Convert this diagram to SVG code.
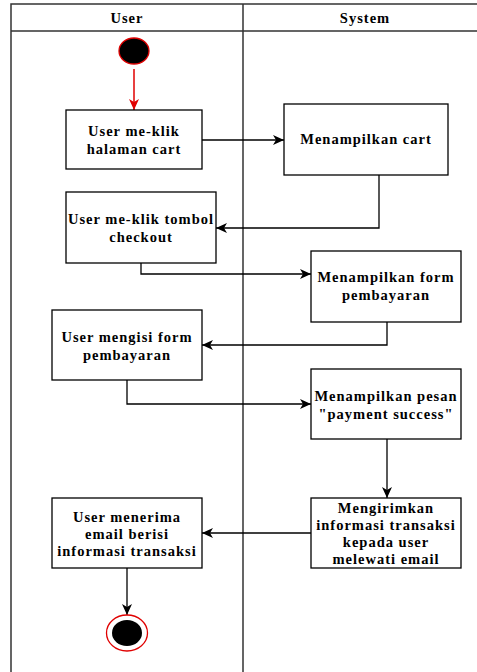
<svg xmlns="http://www.w3.org/2000/svg" width="477" height="672" viewBox="0 0 477 672">
<style>
.lane{fill:none;stroke:#333;stroke-width:1.5}
.box{fill:#fff;stroke:#000;stroke-width:1.3}
.t{font-family:"Liberation Serif","Times New Roman",serif;font-weight:bold;font-size:14.5px;letter-spacing:1px;text-anchor:middle;fill:#000}
.c{fill:none;stroke:#000;stroke-width:1.3}
</style>
<defs>
<marker id="ah" markerWidth="12" markerHeight="10" refX="11" refY="5" orient="auto" markerUnits="userSpaceOnUse">
<path d="M0,0 L11,5 L0,10 L3,5 Z" fill="#000"/>
</marker>
<marker id="ahr" markerWidth="12" markerHeight="10" refX="11" refY="5" orient="auto" markerUnits="userSpaceOnUse">
<path d="M0,0 L11,5 L0,10 L3,5 Z" fill="#e00000"/>
</marker>
</defs>
<g id="lanes">
<path class="lane" d="M11,672 V4 H477 M11,31 H477 M243,4 V672"/>
<text class="t" x="127" y="23">User</text>
<text class="t" x="365" y="23">System</text>
</g>
<g id="connectors">
<path d="M134,69 V110" fill="none" stroke="#e00000" stroke-width="1.5" marker-end="url(#ahr)"/>
<path class="c" d="M202,140 H284" marker-end="url(#ah)"/>
<path class="c" d="M379,175 V228 H216" marker-end="url(#ah)"/>
<path class="c" d="M141,263 V274 H311" marker-end="url(#ah)"/>
<path class="c" d="M387,322 V345 H202" marker-end="url(#ah)"/>
<path class="c" d="M127,380 V404 H311" marker-end="url(#ah)"/>
<path class="c" d="M387,439 V498" marker-end="url(#ah)"/>
<path class="c" d="M311,533 H202" marker-end="url(#ah)"/>
<path class="c" d="M127,568 V615" marker-end="url(#ah)"/>
</g>
<g id="start">
<ellipse cx="134" cy="51" rx="15" ry="13" fill="#000" stroke="#e00000" stroke-width="1.3"/>
</g>
<g id="n1">
<rect class="box" x="66" y="110" width="136" height="59"/>
<text class="t" x="134" y="136">User me-klik</text>
<text class="t" x="134" y="154">halaman cart</text>
</g>
<g id="n2">
<rect class="box" x="284" y="104" width="164" height="71"/>
<text class="t" x="366" y="144">Menampilkan cart</text>
</g>
<g id="n3">
<rect class="box" x="66" y="192" width="150" height="71"/>
<text class="t" x="141" y="224">User me-klik tombol</text>
<text class="t" x="141" y="242">checkout</text>
</g>
<g id="n4">
<rect class="box" x="311" y="251" width="150" height="71"/>
<text class="t" x="386" y="282">Menampilkan form</text>
<text class="t" x="386" y="300">pembayaran</text>
</g>
<g id="n5">
<rect class="box" x="52" y="310" width="150" height="70"/>
<text class="t" x="127" y="342">User mengisi form</text>
<text class="t" x="127" y="360">pembayaran</text>
</g>
<g id="n6">
<rect class="box" x="311" y="369" width="150" height="70"/>
<text class="t" x="386" y="401">Menampilkan pesan</text>
<text class="t" x="386" y="419">"payment success"</text>
</g>
<g id="n7">
<rect class="box" x="311" y="498" width="150" height="70"/>
<text class="t" x="386" y="513">Mengirimkan</text>
<text class="t" x="386" y="530">informasi transaksi</text>
<text class="t" x="386" y="547">kepada user</text>
<text class="t" x="386" y="564">melewati email</text>
</g>
<g id="n8">
<rect class="box" x="52" y="498" width="150" height="70"/>
<text class="t" x="127" y="522">User menerima</text>
<text class="t" x="127" y="539">email berisi</text>
<text class="t" x="127" y="556">informasi transaksi</text>
</g>
<g id="end">
<ellipse cx="127" cy="633" rx="20.5" ry="18" fill="#fff" stroke="#e00000" stroke-width="1.3"/>
<ellipse cx="127" cy="633" rx="15" ry="13" fill="#000"/>
</g>
</svg>
